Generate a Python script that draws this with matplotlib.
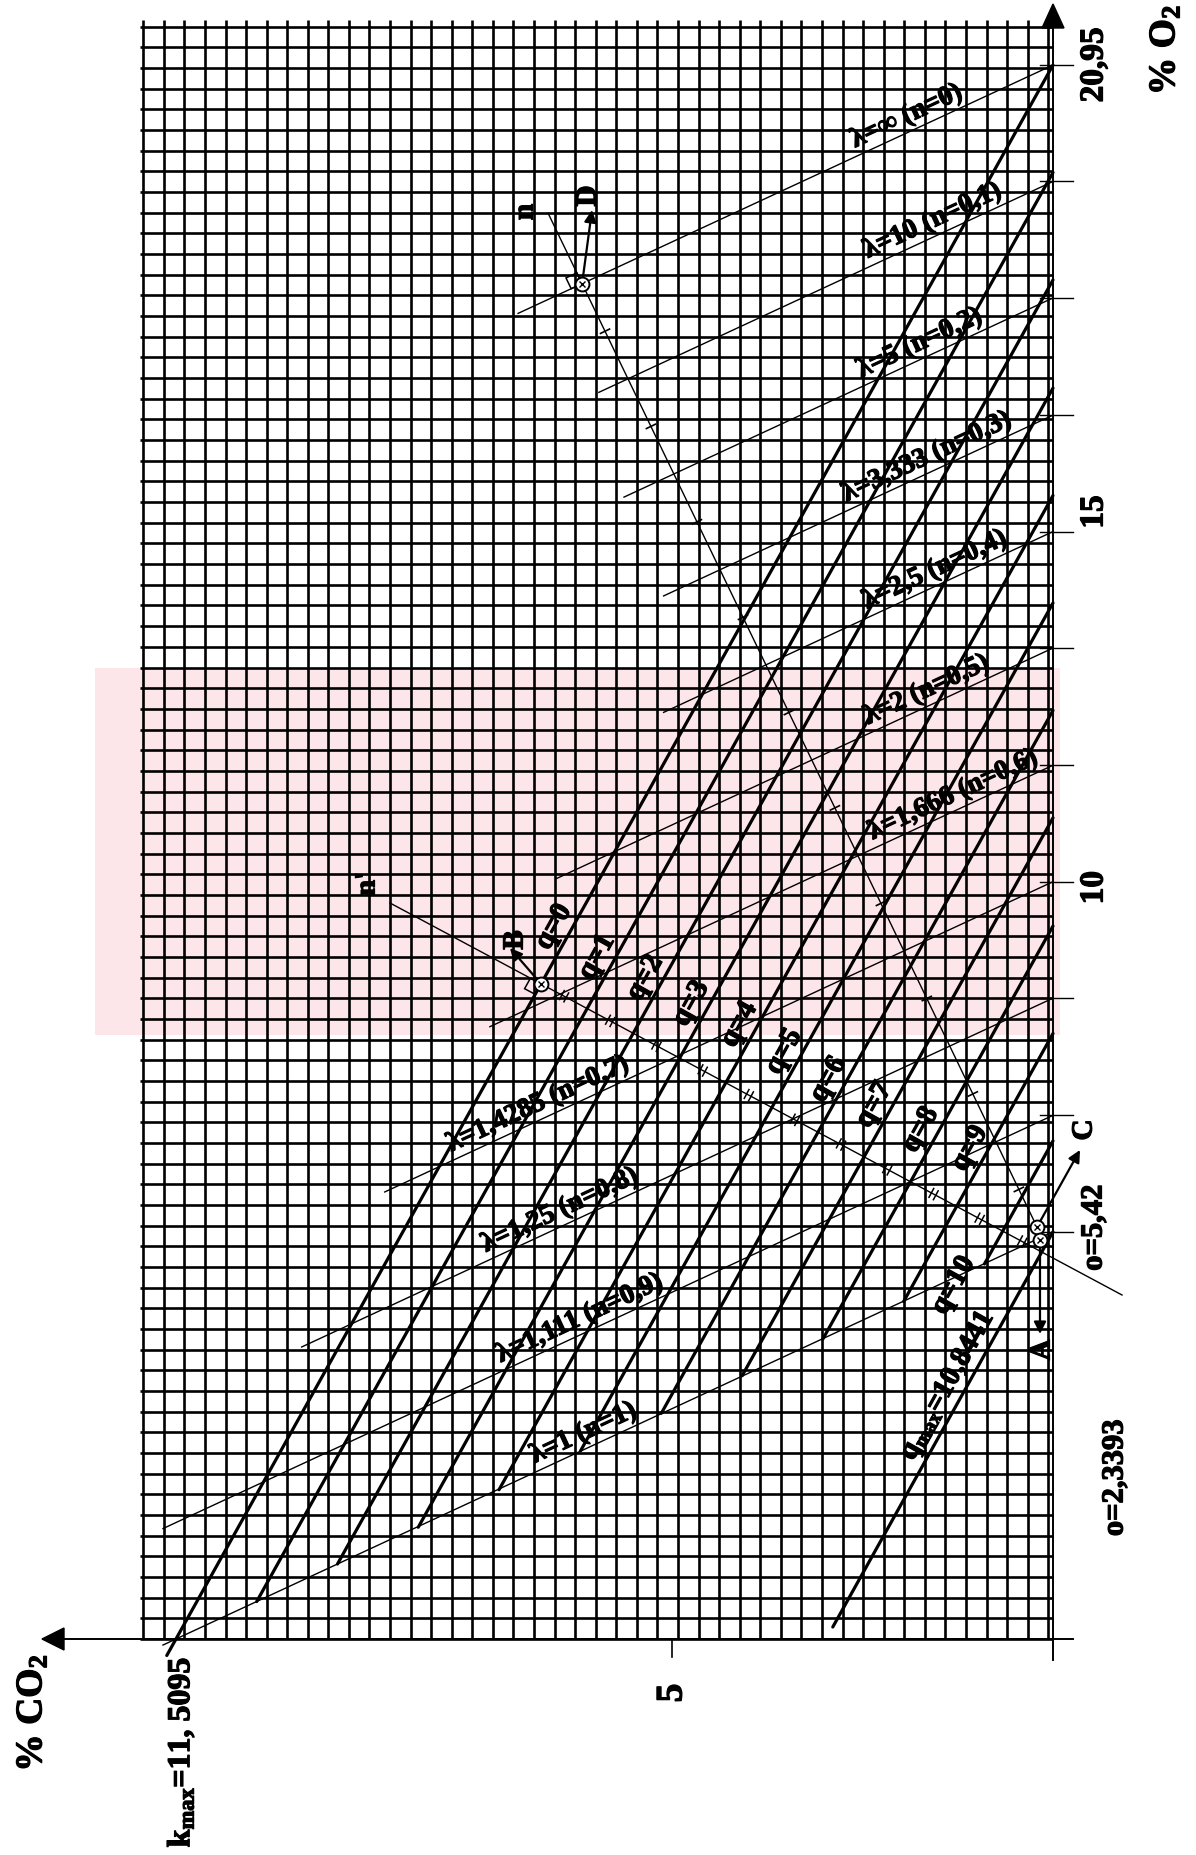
import numpy as np
import matplotlib
matplotlib.use("Agg")
import matplotlib.pyplot as plt
import matplotlib.patheffects as pe
from matplotlib.patches import Polygon

# ---------------- values ----------------
o2_air = 20.95          # % O2 in air (top of the O2 axis)
k_max = 11.5095         # max % CO2 (complete combustion, lambda = 1)
o_lambda1 = 5.42        # O2-axis end of the lambda = 1 line and of the q_max line
o_low = 2.3393

# lines of constant CO content q
q_values = [0, 1, 2, 3, 4, 5, 6, 7, 8, 9, 10, 10.8441]
q_texts = ["q=0", "q=1", "q=2", "q=3", "q=4", "q=5", "q=6", "q=7", "q=8",
           "q=9", "q=10", r"q$_{max}$=10,8441"]
q_o2_axis = [20.95, 19.52, 18.09, 16.65, 15.22, 13.79, 12.36, 10.93, 9.49,
             8.06, 6.63, 5.42]
q_low_co2 = [11.63, 10.45, 9.39, 8.33, 7.27, 6.20, 5.14, 4.08, 3.02, 1.96,
             0.90, 2.89]
q_label_o2 = [9.37, 8.97, 8.69, 8.35, 8.07, 7.71, 7.34, 7.00, 6.67, 6.42,
              4.60, 3.26]

# lines of constant air excess lambda (n = 1/lambda)
n_values = [0, 0.1, 0.2, 0.3, 0.4, 0.5, 0.6, 0.7, 0.8, 0.9, 1.0]
lambda_texts = ["λ=∞ (n=0)", "λ=10 (n=0,1)", "λ=5 (n=0,2)",
                "λ=3,333 (n=0,3)", "λ=2,5 (n=0,4)", "λ=2 (n=0,5)",
                "λ=1,666 (n=0,6)", "λ=1,4285 (n=0,7)", "λ=1,25 (n=0,8)",
                "λ=1,111 (n=0,9)", "λ=1 (n=1)"]
lambda_o2_axis = [20.95, 19.40, 17.85, 16.29, 14.74, 13.19, 11.63, 10.08,
                  8.53, 6.97, 5.42]
lambda_left_co2 = [7.02, 5.96, 5.63, 5.11, 5.11, 6.51, 7.39, 8.77, 9.86,
                   11.68, 11.68]
lambda_label_co2 = [1.84, 1.50, 1.67, 1.575, 1.47, 1.575, 1.23, 6.68, 6.39,
                    6.13, 6.08]

o2_tick_values = [20.95, 15, 10]
o2_tick_texts = ["20,95", "15", "10"]
co2_tick_values = [5]
co2_tick_texts = ["5"]

# ---------------- figure / coordinate frame ----------------
W, H = 1196, 1855
X0, SX = 1053.0, 76.2     # pixel column of CO2 = 0, pixels per % CO2
Y0, SY = 1639.0, 75.13    # pixel row of O2 = 0, pixels per % O2


def px(xp, yp):
    """pixel position of the page -> (CO2, O2)"""
    return ((X0 - xp) / SX, (Y0 - yp) / SY)


plt.rcParams["font.family"] = ["Liberation Serif", "DejaVu Serif"]
plt.rcParams["font.weight"] = "bold"
plt.rcParams["mathtext.fontset"] = "custom"
plt.rcParams["mathtext.rm"] = "Liberation Serif:bold"
plt.rcParams["mathtext.it"] = "Liberation Serif:bold"
plt.rcParams["mathtext.bf"] = "Liberation Serif:bold"
plt.rcParams["mathtext.default"] = "rm"

fig = plt.figure(figsize=(W / 100, H / 100), dpi=100)
ax = fig.add_axes([0, 0, 1, 1])
ax.set_xlim(px(0, 0)[0], px(W, 0)[0])
ax.set_ylim(px(0, H)[1], px(0, 0)[1])
ax.axis("off")

K = "black"
PINK = "#fde6ea"
HEAVY = [pe.withStroke(linewidth=0.9, foreground=K)]

# ---- watermark (faint pink) ----
wm = [(95, 668), (1060, 668), (1060, 1035), (95, 1035)]
ax.add_patch(Polygon([px(*p) for p in wm], closed=True, facecolor=PINK,
                     edgecolor="none", zorder=0))

# ---- graph-paper grid ----
grid_top = px(0, 20)[1]
for k in range(45):
    c = px(1048.3 - 20.57 * k, 0)[0]
    ax.plot([c, c], [0, grid_top], color=K, lw=1.9, zorder=1,
            solid_capstyle="butt")
for k in range(79):
    o = px(0, Y0 - 20.67 * k)[1]
    ax.plot([px(140, 0)[0], 0], [o, o], color=K, lw=1.9, zorder=1,
            solid_capstyle="butt")

# ---- axes ----
ax.plot([0, 0], [px(0, 1660)[1], px(0, 26)[1]], color=K, lw=1.4, zorder=3)
ax.add_patch(Polygon([px(1053, 4), px(1042, 28), px(1064, 28)], closed=True,
                     facecolor=K, edgecolor=K, zorder=3))
ax.plot([px(1073, 0)[0], px(62, 0)[0]], [0, 0], color=K, lw=1.4, zorder=3)
ax.add_patch(Polygon([px(42, Y0), px(64, Y0 - 11), px(64, Y0 + 11)],
                     closed=True, facecolor=K, edgecolor=K, zorder=3))
for o in lambda_o2_axis:
    ax.plot([px(1040, 0)[0], px(1073, 0)[0]], [o, o], color=K, lw=1.0, zorder=3)
for c in co2_tick_values:
    ax.plot([c, c], [0, px(0, 1657)[1]], color=K, lw=1.2, zorder=3)

s_q = -o2_air / k_max          # slope of q lines
s_l = -o_lambda1 / k_max       # slope of lambda lines


def screen_angle(slope):
    p1 = ax.transData.transform((1.0, 5.0))
    p2 = ax.transData.transform((0.0, 5.0 - slope))
    return np.degrees(np.arctan2(p2[1] - p1[1], p2[0] - p1[0]))


ang_q = screen_angle(s_q)
ang_l = screen_angle(s_l)

# ---- q lines (thick) ----
for qo, cl in zip(q_o2_axis, q_low_co2):
    ax.plot([cl, 0], [qo + s_q * cl, qo], color=K, lw=2.3, zorder=4,
            solid_capstyle="round")

# ---- lambda lines (thin) ----
for lo, cl in zip(lambda_o2_axis, lambda_left_co2):
    ax.plot([cl, 0], [lo + s_l * cl, lo], color=K, lw=1.0, zorder=4)

# ---- labels along the lines ----
ql = np.radians(ang_q)
perp_q = np.array([-np.sin(ql), np.cos(ql)]) * 17 * 0.72
for txt, qo, lo in zip(q_texts, q_o2_axis, q_label_o2):
    c = (lo - qo) / s_q
    ax.annotate(txt, xy=(c, lo), xytext=tuple(perp_q), textcoords="offset points",
                rotation=ang_q, rotation_mode="anchor", ha="center",
                va="center", fontsize=21, fontweight="bold", zorder=6,
                path_effects=HEAVY)
ll = np.radians(ang_l)
perp_l = np.array([-np.sin(ll), np.cos(ll)]) * 15 * 0.72
for txt, lo, c in zip(lambda_texts, lambda_o2_axis, lambda_label_co2):
    ax.annotate(txt, xy=(c, lo + s_l * c), xytext=tuple(perp_l),
                textcoords="offset points", rotation=ang_l,
                rotation_mode="anchor", ha="center", va="center",
                fontsize=20, fontweight="bold", zorder=6, path_effects=HEAVY)


# ---- helper: intersection of segment p0-p1 with line o = b + s*c ----
def cross(p0, p1, b, s):
    (c0, o0), (c1, o1) = p0, p1
    t = (b + s * c0 - o0) / ((o1 - o0) - s * (c1 - c0))
    return np.array([c0 + t * (c1 - c0), o0 + t * (o1 - o0)])


def to_pix(p):
    return np.array([X0 - p[0] * SX, Y0 - p[1] * SY])


def from_pix(q):
    return px(q[0], q[1])


# n axis (perpendicular to lambda lines) and n' axis (across q lines)
A1 = np.array(px(1037, 1227))
A2 = np.array(px(1040, 1240))
n_top = np.array(px(548, 213))
np_start = np.array(px(390, 903))
np_end = np.array(px(1122, 1295))

ax.plot([n_top[0], A1[0]], [n_top[1], A1[1]], color=K, lw=1.0, zorder=4)
ax.plot([np_start[0], np_end[0]], [np_start[1], np_end[1]], color=K, lw=1.0,
        zorder=4)

D = cross(n_top, A1, lambda_o2_axis[0], s_l)
B = cross(np_start, np_end, q_o2_axis[0], s_q)

# single ticks on n axis (between lambda lines)
pts = [cross(n_top, A1, lo, s_l) for lo in lambda_o2_axis]
dn = to_pix(A1) - to_pix(n_top)
dn = dn / np.hypot(*dn)
pn = np.array([-dn[1], dn[0]])
for a, b in zip(pts[:-1], pts[1:]):
    m = to_pix((a + b) / 2)
    p1, p2 = m - 5 * pn, m + 5 * pn
    ax.plot([from_pix(p1)[0], from_pix(p2)[0]], [from_pix(p1)[1], from_pix(p2)[1]],
            color=K, lw=1.2, zorder=5)

# double ticks on n' axis (between q lines)
pts = [cross(np_start, np_end, qo, s_q) for qo in q_o2_axis]
dd = to_pix(np_end) - to_pix(np_start)
dd = dd / np.hypot(*dd)
pd = np.array([-dd[1], dd[0]])
for a, b in zip(pts[:-1], pts[1:]):
    m = to_pix((a + b) / 2)
    for sh in (-2.5, 2.5):
        p1, p2 = m + sh * dd - 5 * pd, m + sh * dd + 5 * pd
        ax.plot([from_pix(p1)[0], from_pix(p2)[0]],
                [from_pix(p1)[1], from_pix(p2)[1]], color=K, lw=1.1, zorder=5)


# right-angle marks
def square(P, u, v, s=12):
    Pp = to_pix(P)
    corners = [Pp, Pp + s * u, Pp + s * u + s * v, Pp + s * v]
    ax.add_patch(Polygon([from_pix(c) for c in corners], closed=True,
                         facecolor="none", edgecolor=K, lw=1.1, zorder=5))


ul = np.array([-np.cos(ll), np.sin(ll)])
square(D, ul, -dn)
uq = np.array([-np.cos(ql), np.sin(ql)])
square(B, uq, -dd)

# marked points
for P in (D, B, A1, A2):
    ax.plot(P[0], P[1], marker="o", ms=10, mfc="white", mec=K, mew=1.4, zorder=7)
    ax.plot(P[0], P[1], marker="x", ms=5, mec=K, mew=1.0, zorder=8)


def arrow(P, tip_px):
    ax.annotate("", xy=px(*tip_px), xytext=(P[0], P[1]),
                arrowprops=dict(arrowstyle="-|>", color=K, lw=1.6,
                                mutation_scale=18, shrinkA=0, shrinkB=0),
                zorder=6)


arrow(D, (592, 210))
arrow(B, (510, 948))
arrow(A1, (1080, 1150))
arrow(A2, (1040, 1334))


# ---- point / axis letters ----
def label(t, xp, yp, size=21, **kw):
    ax.text(*px(xp, yp), t, rotation=90, ha="center", va="center",
            fontsize=size, fontweight="bold", zorder=8, path_effects=HEAVY, **kw)


label("n", 525, 212)
label("D", 588, 196)
label("n'", 367, 884)
label("B", 515, 940)
label("C", 1084, 1130)
label("A", 1042, 1350)

# axis value labels
for v, t in zip(o2_tick_values, o2_tick_texts):
    ax.text(px(1094, 0)[0], v, t, rotation=90, ha="center", va="center",
            fontsize=24, fontweight="bold", path_effects=HEAVY)
for v, t in zip(co2_tick_values, co2_tick_texts):
    ax.text(v, px(0, 1693)[1], t, rotation=90, ha="center", va="center",
            fontsize=27, fontweight="bold", path_effects=HEAVY)
ax.text(px(1094, 0)[0], o_lambda1 + 0.05, "o=5,42", rotation=90, ha="center",
        va="center", fontsize=22, fontweight="bold", path_effects=HEAVY)
ax.text(px(1115, 0)[0], o_low - 0.2, "o=2,3393", rotation=90, ha="center",
        va="center", fontsize=22, fontweight="bold", path_effects=HEAVY)
ax.text(k_max - 0.07, px(0, 1752)[1], r"k$_{max}$=11, 5095", rotation=90,
        ha="center", va="center", fontsize=23, fontweight="bold",
        path_effects=HEAVY)
ax.text(*px(1165, 50), r"% O$_2$", rotation=90, ha="center", va="center",
        fontsize=27, fontweight="bold", path_effects=HEAVY)
ax.text(*px(32, 1713), r"% CO$_2$", rotation=90, ha="center", va="center",
        fontsize=27, fontweight="bold", path_effects=HEAVY)

fig.savefig("out.png", dpi=100, facecolor="white")
